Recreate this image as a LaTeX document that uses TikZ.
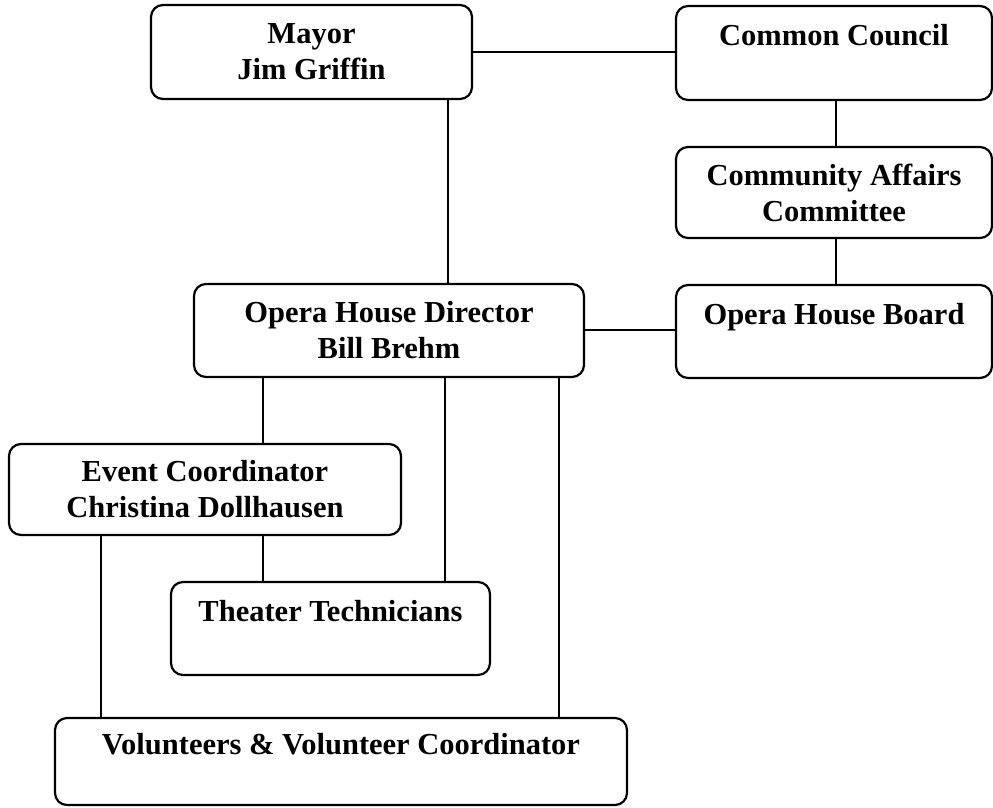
\documentclass[tikz,border=0pt]{standalone}
\usepackage{fontspec}
\setmainfont{Liberation Serif}
\usepackage{tikz}

\begin{document}
\begin{tikzpicture}[
        x=1pt, y=-1pt,
        office/.style={rectangle, rounded corners=12pt, draw=black, line width=2.2pt, fill=white, inner sep=0pt, align=center, font=\fontsize{30.5}{36}\selectfont\bfseries, execute at begin node={\rule{0pt}{36pt}}},
        link/.style={-, line width=1.9pt, black}
    ]
        \useasboundingbox (0,0) rectangle (993,807);

        \node[office, minimum width=321pt, minimum height=94pt] (mayor) at (311.5,52) {Mayor\\Jim Griffin};
        \node[office, minimum width=316pt, minimum height=94pt] (council) at (834,53) {Common Council\\\mbox{}};
        \node[office, minimum width=316pt, minimum height=91pt] (affairs) at (834,192.5) {Community Affairs\\Committee};
        \node[office, minimum width=316pt, minimum height=93pt] (board) at (834,331.5) {Opera House Board\\\mbox{}};
        \node[office, minimum width=390pt, minimum height=93pt] (director) at (389,330.5) {Opera House Director\\Bill Brehm};
        \node[office, minimum width=392pt, minimum height=91pt] (event) at (205,489.5) {Event Coordinator\\Christina Dollhausen};
        \node[office, minimum width=319pt, minimum height=93pt] (tech) at (330.5,628.5) {Theater Technicians\\\mbox{}};
        \node[office, minimum width=572pt, minimum height=87pt] (volunteers) at (341,761.5) {Volunteers \& Volunteer Coordinator\\\mbox{}};

        \draw[link] (mayor.east |- 0,52) -- (council.west |- 0,52);
        \draw[link] (mayor.south -| 448,0) -- (director.north -| 448,0);
        \draw[link] (council.south -| 836,0) -- (affairs.north -| 836,0);
        \draw[link] (affairs.south -| 836,0) -- (board.north -| 836,0);
        \draw[link] (director.east |- 0,330) -- (board.west |- 0,330);

        \draw[link] (director.south -| 263,0) -- (event.north -| 263,0);
        \draw[link] (director.south -| 445,0) -- (tech.north -| 445,0);
        \draw[link] (director.south -| 559,0) -- (volunteers.north -| 559,0);
        \draw[link] (event.south -| 263,0) -- (tech.north -| 263,0);
        \draw[link] (event.south -| 101,0) -- (volunteers.north -| 101,0);
    \end{tikzpicture}
\end{document}
